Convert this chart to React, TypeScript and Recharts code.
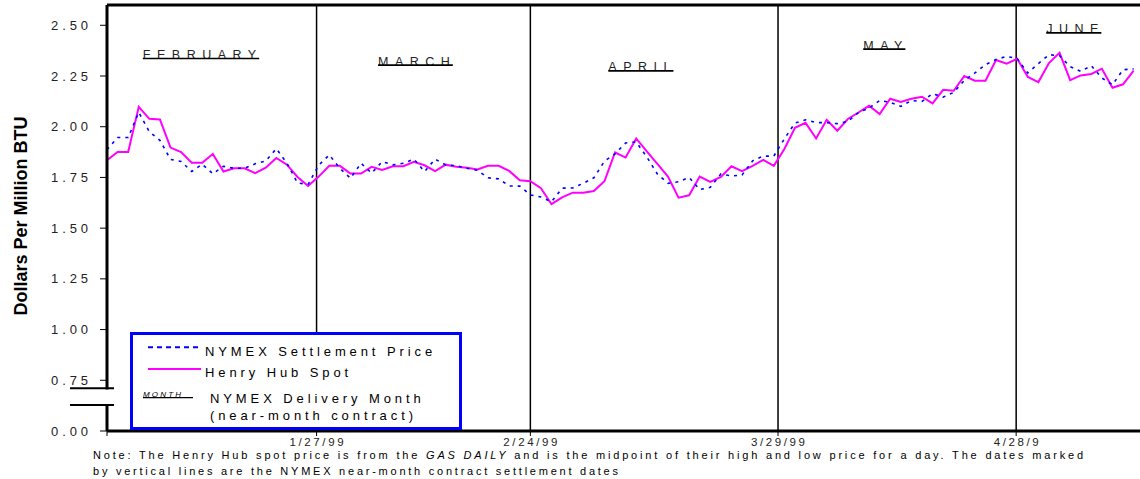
import React from 'react';
import { LineChart, Line, XAxis, YAxis, ReferenceLine, ReferenceDot } from 'recharts';

const FONT = "'Liberation Sans', Arial, Helvetica, sans-serif";

// Henry Hub spot price, one value per trading day (index 0 .. 97)
const spotPrice = [
  1.835, 1.875, 1.875, 2.098, 2.039, 2.036, 1.897, 1.875, 1.822, 1.822,
  1.865, 1.779, 1.795, 1.795, 1.771, 1.798, 1.846, 1.813, 1.752, 1.708,
  1.754, 1.807, 1.807, 1.769, 1.769, 1.802, 1.787, 1.805, 1.805, 1.827,
  1.810, 1.781, 1.813, 1.803, 1.798, 1.789, 1.807, 1.807, 1.782, 1.736,
  1.731, 1.697, 1.618, 1.652, 1.675, 1.675, 1.683, 1.731, 1.873, 1.848,
  1.942, 1.878, 1.817, 1.754, 1.650, 1.662, 1.754, 1.728, 1.752, 1.805,
  1.781, 1.807, 1.836, 1.807, 1.890, 1.995, 2.019, 1.942, 2.034, 1.980,
  2.038, 2.070, 2.103, 2.062, 2.138, 2.122, 2.138, 2.148, 2.115, 2.182,
  2.177, 2.250, 2.227, 2.227, 2.329, 2.311, 2.335, 2.245, 2.220, 2.314,
  2.364, 2.230, 2.253, 2.260, 2.286, 2.192, 2.209, 2.276,
];

// NYMEX near-month settlement price
const nymexSettle = [
  1.886, 1.947, 1.947, 2.071, 1.975, 1.933, 1.839, 1.829, 1.779, 1.815,
  1.768, 1.805, 1.795, 1.795, 1.817, 1.831, 1.892, 1.820, 1.723, 1.716,
  1.810, 1.861, 1.795, 1.746, 1.820, 1.771, 1.828, 1.812, 1.820, 1.840,
  1.779, 1.840, 1.812, 1.808, 1.795, 1.785, 1.748, 1.743, 1.708, 1.707,
  1.664, 1.654, 1.630, 1.697, 1.698, 1.721, 1.748, 1.830, 1.866, 1.920,
  1.925, 1.851, 1.767, 1.721, 1.729, 1.750, 1.690, 1.701, 1.767, 1.757,
  1.762, 1.832, 1.855, 1.855, 1.940, 2.018, 2.034, 2.020, 2.020, 2.015,
  2.026, 2.070, 2.092, 2.129, 2.120, 2.100, 2.129, 2.125, 2.163, 2.146,
  2.169, 2.228, 2.265, 2.306, 2.331, 2.347, 2.335, 2.265, 2.311, 2.355,
  2.350, 2.296, 2.273, 2.301, 2.240, 2.207, 2.281, 2.285,
];

// Y axis: broken below 0.75 (the "0.00" label sits where 0.50 would be)
const yTickValues = [0.5, 0.75, 1.0, 1.25, 1.5, 1.75, 2.0, 2.25, 2.5];
const yTickLabels = ['0.00', '0.75', '1.00', '1.25', '1.50', '1.75', '2.00', '2.25', '2.50'];

// NYMEX near-month contract settlement dates (in trading-day index units)
const settleDatePos = [19.8, 40.0, 63.4, 85.9];
const settleDateLabels = ['1/27/99', '2/24/99', '3/29/99', '4/28/9'];

// Delivery month annotations
const monthNames = ['FEBRUARY', 'MARCH', 'APRIL', 'MAY', 'JUNE'];
const monthAtIndex = [8.74, 29.0, 50.3, 73.3, 91.2];
const monthAtPrice = [2.334, 2.301, 2.273, 2.38, 2.46];

const rows = spotPrice.map((s, i) => ({ idx: i, spot: s, nymex: nymexSettle[i] }));

let ctx: CanvasRenderingContext2D | null = null;
function textWidth(t: string, font: string, ls: number) {
  if (!ctx && typeof document !== 'undefined') ctx = document.createElement('canvas').getContext('2d');
  if (!ctx) return t.length * 8;
  ctx.font = font;
  return ctx.measureText(t).width + ls * (t.length - 1);
}

const MonthMark = ({ cx, cy, text }: any) => {
  const fs = 12.5;
  const ls = 6.5;
  const w = textWidth(text, `${fs}px ${FONT}`, ls);
  const left = cx - w / 2;
  return (
    <g>
      <text x={left} y={cy} fontSize={fs} letterSpacing={ls} fontFamily={FONT} fill="#222">
        {text}
      </text>
      <line x1={left} x2={left + w + 3} y1={cy - 0.5} y2={cy - 0.5} stroke="#000" strokeWidth={1.6} />
    </g>
  );
};

const YTick = (props: any) => {
  const { x, y, payload } = props;
  const i = yTickValues.indexOf(payload.value);
  if (i < 0) return null;
  return (
    <text x={x} y={y} dy="0.355em" textAnchor="end" fontSize={13} letterSpacing={3.9} fontFamily={FONT} fill="#222">
      {yTickLabels[i]}
    </text>
  );
};

const XTick = (props: any) => {
  const { x, y, payload } = props;
  const i = settleDatePos.indexOf(payload.value);
  if (i < 0) return null;
  return (
    <text x={x + 1.3} y={y} dy="0.71em" textAnchor="middle" fontSize={11.5} letterSpacing={2.6} fontFamily={FONT} fill="#222">
      {settleDateLabels[i]}
    </text>
  );
};

export default function App() {
  return (
    <div style={{ position: 'absolute', left: 0, top: 0, width: 1140, height: 479, overflow: 'hidden', background: '#fff' }}>
      <LineChart width={1140} height={479} data={rows} margin={{ top: 5, right: 0, bottom: 0, left: 0 }}>
        <XAxis
          dataKey="idx"
          type="number"
          domain={[0, 97.6]}
          ticks={[0, ...settleDatePos]}
          interval={0}
          allowDataOverflow
          height={48}
          tickSize={5}
          tickLine={{ stroke: '#000', strokeWidth: 1 }}
          axisLine={{ stroke: '#000', strokeWidth: 3 }}
          tick={<XTick />}
        />
        <YAxis
          type="number"
          domain={[0.5, 2.6]}
          ticks={yTickValues}
          interval={0}
          allowDataOverflow
          width={107}
          tickSize={7}
          tickMargin={8}
          tickLine={{ stroke: '#000', strokeWidth: 1 }}
          axisLine={{ stroke: '#000', strokeWidth: 3 }}
          tick={<YTick />}
        />
        <ReferenceLine y={2.6} stroke="#000" strokeWidth={3} />
        {settleDatePos.map((p) => (
          <ReferenceLine key={p} x={p} stroke="#000" strokeWidth={1.5} />
        ))}
        {monthNames.map((m, i) => (
          <ReferenceDot
            key={m}
            x={monthAtIndex[i]}
            y={monthAtPrice[i]}
            r={0}
            ifOverflow="visible"
            shape={(p: any) => <MonthMark cx={p.cx} cy={p.cy} text={m} />}
          />
        ))}
        <Line
          type="linear"
          dataKey="spot"
          stroke="#FF00FF"
          strokeWidth={2}
          dot={false}
          activeDot={false}
          isAnimationActive={false}
        />
        <Line
          type="linear"
          dataKey="nymex"
          stroke="#0000FF"
          strokeWidth={1.6}
          strokeDasharray="3 5"
          dot={false}
          activeDot={false}
          isAnimationActive={false}
        />
      </LineChart>

      <svg
        width={1140}
        height={479}
        style={{ position: 'absolute', left: 0, top: 0, pointerEvents: 'none' }}
        fontFamily={FONT}
      >
        {/* Y axis title */}
        <text transform="translate(27,216) rotate(-90)" textAnchor="middle" fontSize={18} fontWeight="bold" fill="#000">
          Dollars Per Million BTU
        </text>

        {/* axis break marks */}
        <rect x={103} y={389.5} width={9} height={14.5} fill="#fff" />
        <line x1={70} x2={114} y1={388.3} y2={388.3} stroke="#000" strokeWidth={2} />
        <line x1={70} x2={114} y1={405} y2={405} stroke="#000" strokeWidth={2} />

        {/* legend */}
        <g transform="translate(130,332)">
          <rect x={1.5} y={1.5} width={329} height={95} fill="#fff" stroke="#0000FF" strokeWidth={3} />
          <line x1={18} x2={71} y1={15.3} y2={15.3} stroke="#0000FF" strokeWidth={2} strokeDasharray="5 4" />
          <text x={75} y={24} fontSize={13} letterSpacing={3.9} fill="#000">NYMEX Settlement Price</text>
          <line x1={18} x2={71} y1={37} y2={37} stroke="#FF00FF" strokeWidth={2} />
          <text x={75} y={45.3} fontSize={13} letterSpacing={3.9} fill="#000">Henry Hub Spot</text>
          <text x={13} y={65.3} fontSize={8} fontStyle="italic" letterSpacing={2.2} fill="#000">MONTH</text>
          <line x1={13} x2={63} y1={65.7} y2={65.7} stroke="#000" strokeWidth={1.2} />
          <text x={80} y={71.3} fontSize={13} letterSpacing={3.9} fill="#000">NYMEX Delivery Month</text>
          <text x={80} y={87.5} fontSize={13} letterSpacing={3.9} fill="#000">(near-month contract)</text>
        </g>

        {/* note */}
        <text x={93} y={459} fontSize={11} fill="#000" textLength={990} lengthAdjust="spacing">
          Note: The Henry Hub spot price is from the <tspan fontStyle="italic">GAS DAILY</tspan> and is the midpoint of their high and low price for a day.  The dates marked
        </text>
        <text x={93} y={475} fontSize={11} fill="#000" textLength={525} lengthAdjust="spacing">
          by vertical lines are the NYMEX near-month contract settlement dates
        </text>
      </svg>
    </div>
  );
}
